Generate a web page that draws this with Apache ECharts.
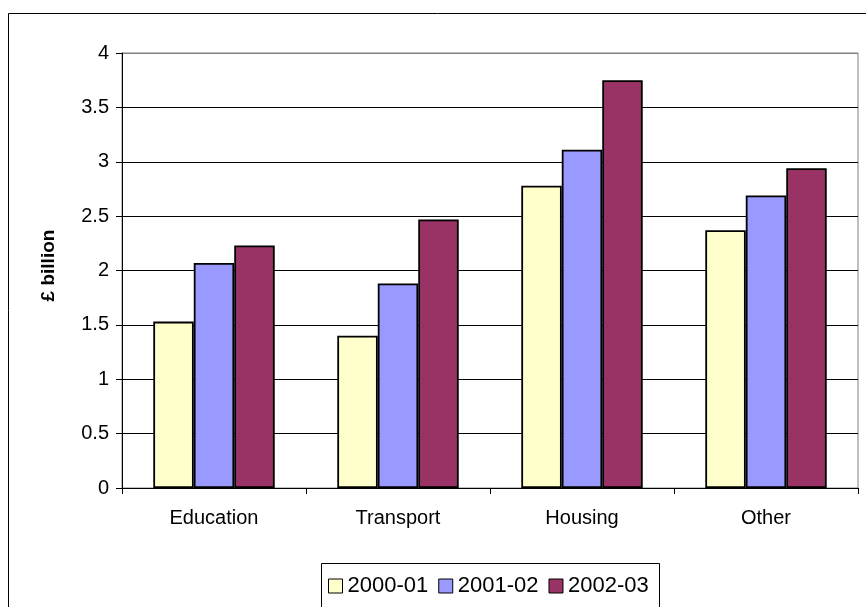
<!DOCTYPE html>
<html>
<head>
<meta charset="utf-8">
<script src="https://cdn.jsdelivr.net/npm/echarts@6/dist/echarts.min.js"></script>
<style>
html,body{margin:0;padding:0;background:#fff;}
#main{width:866px;height:607px;}
</style>
</head>
<body>
<div id="main"></div>
<script>
const categories = ['Education', 'Transport', 'Housing', 'Other'];
const seriesNames = ['2000-01', '2001-02', '2002-03'];
const values2000 = [1.53, 1.40, 2.78, 2.37];
const values2001 = [2.07, 1.88, 3.11, 2.69];
const values2002 = [2.23, 2.47, 3.75, 2.94];
const yTicks = [0, 0.5, 1, 1.5, 2, 2.5, 3, 3.5, 4];
const colors = ['#FFFFCC', '#9999FF', '#993366'];

const chart = echarts.init(document.getElementById('main'));
const font = 'Liberation Sans, Arial, sans-serif';
const allValues = [values2000, values2001, values2002];

chart.setOption({
  animation: false,
  backgroundColor: '#fff',
  textStyle: { fontFamily: font },
  graphic: [
    { type: 'rect', shape: { x: 8.5, y: 13.5, width: 900, height: 700 },
      style: { fill: 'none', stroke: '#000', lineWidth: 1 }, z: -10 },
    { type: 'rect', shape: { x: 321.5, y: 563.5, width: 338, height: 80 },
      style: { fill: '#fff', stroke: '#000', lineWidth: 1 }, z: -5 }
  ],
  legend: {
    data: seriesNames,
    left: 328,
    top: 575,
    padding: 0,
    itemWidth: 14,
    itemHeight: 14,
    itemGap: 10,
    icon: 'rect',
    textStyle: { fontSize: 22, color: '#000', fontFamily: font, lineHeight: 20 },
    itemStyle: { borderColor: '#000', borderWidth: 1 }
  },
  grid: {
    left: 122, right: 8, top: 53, bottom: 119,
    show: true, borderColor: '#808080', borderWidth: 1, backgroundColor: 'transparent'
  },
  xAxis: {
    type: 'category',
    data: categories,
    axisLine: { lineStyle: { color: '#000', width: 1 } },
    axisTick: { show: true, length: 6, lineStyle: { color: '#000' } },
    axisLabel: { fontSize: 20, color: '#000', margin: 20, fontFamily: font }
  },
  yAxis: {
    type: 'value',
    min: yTicks[0],
    max: yTicks[yTicks.length - 1],
    interval: 0.5,
    name: '£ billion',
    nameLocation: 'middle',
    nameGap: 64,
    nameRotate: 90,
    nameTextStyle: { fontSize: 19, fontWeight: 'bold', color: '#000', fontFamily: font, padding: [0, 0, 0, 10] },
    axisLine: { show: true, lineStyle: { color: '#000', width: 1 } },
    axisTick: { show: true, length: 6, lineStyle: { color: '#000' } },
    axisLabel: { fontSize: 20, color: '#000', margin: 13, fontFamily: font },
    splitLine: { show: true, lineStyle: { color: ['#000','#000','#000','#000','#000','#000','#000','#000','#808080'], width: 1 } }
  },
  series: seriesNames.map((n, i) => ({
    name: n,
    type: 'bar',
    data: allValues[i],
    barGap: '0%',
    barCategoryGap: '34%',
    itemStyle: { color: colors[i], borderColor: '#000', borderWidth: 1.8 }
  }))
});
</script>
</body>
</html>
